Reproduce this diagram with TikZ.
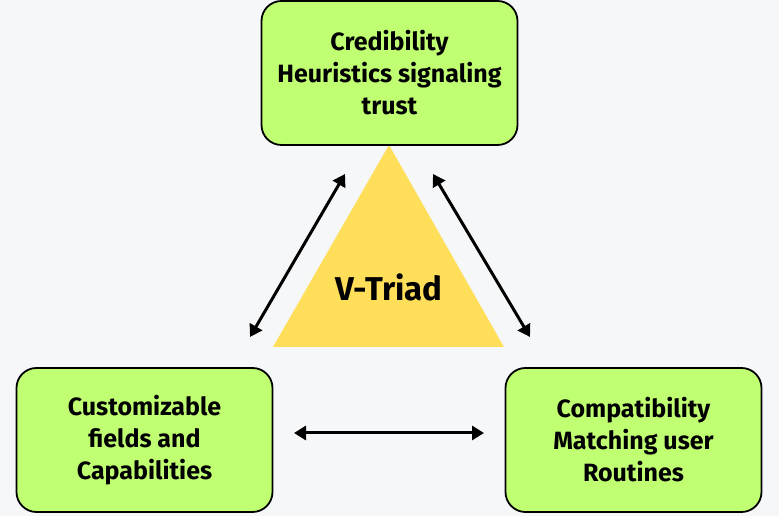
\documentclass[tikz,border=0pt]{standalone}
\usepackage{fontspec}
\setmainfont{Fira Sans}
\usetikzlibrary{arrows.meta}
\definecolor{bgc}{HTML}{F6F7F9}
\definecolor{boxc}{HTML}{C1FF72}
\definecolor{tric}{HTML}{FFDE59}
\tikzset{
  card/.style={draw=black, line width=1.8pt, fill=boxc, rounded corners=20pt,
    minimum width=256pt, minimum height=144pt, align=center,
    font=\bfseries\fontsize{25pt}{32pt}\selectfont, inner sep=0pt},
  dbl/.style={{Triangle[length=12pt,width=14pt]}-{Triangle[length=12pt,width=14pt]}, line width=3pt}
}
\begin{document}
\begin{tikzpicture}[x=1pt,y=1pt]
\fill[bgc] (0,0) rectangle (779,516);
\useasboundingbox (0,0) rectangle (779,516);
% triangle
\fill[tric] (389,371) -- (273,169) -- (504,169) -- cycle;
\node[font=\bfseries\fontsize{33pt}{38pt}\selectfont] (tri) at (389,229) {V-Triad};
% boxes
\node[card] (top) at (389.5,443) {Credibility\\Heuristics signaling\\trust};
\node[card] (left) at (144.5,76) {Customizable\\fields and\\Capabilities};
\node[card] (right) at (633.5,76) {Compatibility\\Matching user\\Routines};
% arrow endpoints
\coordinate (a1) at (250,179);
\coordinate (a2) at (345,342);
\coordinate (b1) at (433,342);
\coordinate (b2) at (530,179);
\coordinate (c1) at (294,83);
\coordinate (c2) at (484,83);
\draw[dbl] (a1) -- (a2);
\draw[dbl] (b1) -- (b2);
\draw[dbl] (c1) -- (c2);
\end{tikzpicture}
\end{document}
